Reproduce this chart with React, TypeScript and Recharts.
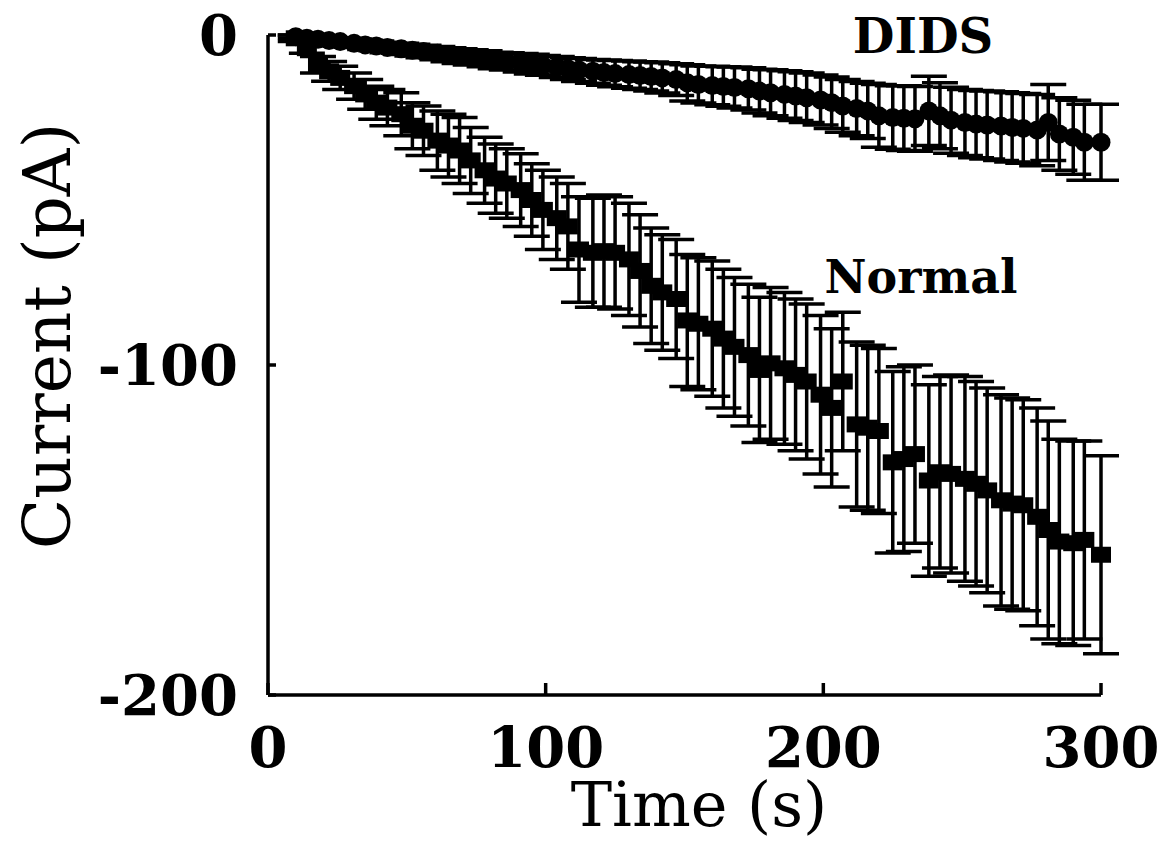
import { ScatterChart, Scatter, XAxis, YAxis, ErrorBar, Customized } from 'recharts';

// sampling times (s), shared by both recordings
const times = [
  10, 14, 18, 22, 26, 31, 35, 39, 43, 48,
  52, 56, 61, 65, 69, 73, 78, 82, 86, 91,
  95, 99, 104, 108, 112, 117, 121, 125, 130, 134,
  138, 142, 147, 151, 155, 160, 164, 168, 173, 177,
  181, 186, 190, 194, 199, 203, 207, 212, 216, 220,
  225, 229, 233, 238, 242, 246, 251, 255, 259, 264,
  268, 272, 277, 281, 285, 290, 294, 300,
];

// Normal: mean current (pA) and SEM
const normalCurrent = [
  -1, -4, -9, -11, -13, -15.5, -18, -20.5, -22, -24,
  -27.5, -29, -32, -33.5, -35, -38, -41, -43.5, -45, -47,
  -50, -53, -55.5, -58, -65, -66, -65.5, -66, -68, -71.5,
  -76, -78, -80, -86.5, -87.5, -89, -92, -94.5, -97, -101.5,
  -99.5, -101, -103, -105, -109, -113, -105, -118, -119, -120,
  -129.5, -128.5, -127, -135, -132.5, -133, -134.5, -136, -138, -141,
  -142, -142.5, -146, -150, -153.5, -154, -153, -157.5,
];
const normalSem = [
  1, 1.5, 2.5, 3, 3.5, 4, 4.5, 5, 5.5, 6.5,
  7, 7.5, 9, 9.5, 10, 10, 10, 10.5, 10.5, 11,
  11, 12, 12.5, 13, 16, 16.5, 17, 17, 17, 17,
  17.5, 17.5, 18, 20, 20, 20.5, 21, 21, 21.5, 22,
  23, 23, 23, 23.5, 24, 24, 21, 25, 25, 25,
  27.5, 28, 27, 29, 29, 30, 31, 31, 31, 32,
  32, 32, 33, 33, 31, 31, 30, 30,
];

// DIDS: mean current (pA) and SEM
const didsCurrent = [
  -0.5, -1, -1.3, -1.7, -2, -2.5, -3, -3.3, -3.8, -4.2,
  -4.6, -5, -5.5, -6, -6.4, -6.8, -7.2, -7.7, -8, -8.4,
  -8.8, -9.2, -9.7, -10.2, -10.6, -11, -11.4, -11.7, -12, -12.3,
  -12.6, -13, -13.5, -14.5, -15, -15.3, -15.6, -15.9, -16.3, -17,
  -17.5, -18, -18.5, -19, -19.7, -20.5, -21.5, -22.3, -23, -24.5,
  -25, -25.2, -25.4, -23, -24.5, -25.8, -26.5, -27, -27.3, -27.6,
  -28, -28.3, -28.8, -26.5, -30, -31, -32.5, -32.5,
];
const didsSem = [
  0.5, 0.8, 1, 1, 1.2, 1.3, 1.4, 1.5, 1.6, 1.7,
  1.8, 1.9, 2, 2.1, 2.2, 2.3, 2.4, 2.5, 2.6, 2.8,
  3, 3, 3.2, 3.3, 3.5, 3.6, 3.8, 4, 4.1, 4.2,
  4.4, 4.6, 4.8, 5.5, 5.6, 5.8, 6, 6.2, 6.4, 6.6,
  7, 7.2, 7.4, 7.5, 7.6, 7.8, 8, 8.2, 8.4, 9.5,
  9.6, 9.8, 9.8, 10.5, 10, 10, 10, 10.2, 10.3, 10.4,
  10.5, 10.6, 10.8, 11.5, 11, 11.2, 11.5, 11.5,
];

const xTicks = [0, 100, 200, 300];
const yTicks = [0, -100, -200];

const normalData = times.map((t, i) => ({ t, v: normalCurrent[i], e: normalSem[i] }));
const didsData = times.map((t, i) => ({ t, v: didsCurrent[i], e: didsSem[i] }));

const FONT = '"DejaVu Serif", "Liberation Serif", serif';

const Square = (p: any) => <rect x={p.cx - 10} y={p.cy - 8} width={20} height={16} fill="#000" />;
const Dot = (p: any) => <circle cx={p.cx} cy={p.cy} r={9.5} fill="#000" />;

const Labels = () => (
  <g fontFamily={FONT} fill="#000">
    <text x={923} y={53} fontSize={48} fontWeight="bold" textAnchor="middle">DIDS</text>
    <text x={921} y={293} fontSize={46} fontWeight="bold" textAnchor="middle">Normal</text>
    <text x={699} y={826} fontSize={62} textAnchor="middle">Time  (s)</text>
    <text x={0} y={0} fontSize={66} textAnchor="middle" transform="translate(70 336) rotate(-90)">
      Current (pA)
    </text>
  </g>
);

export default function App() {
  return (
    <div style={{ position: 'absolute', left: 0, top: 0, width: 1163, height: 846, background: '#fff' }}>
      <ScatterChart width={1163} height={846} margin={{ top: 35, right: 62, left: 0, bottom: 0 }}>
        <XAxis
          type="number"
          dataKey="t"
          domain={[0, 300]}
          ticks={xTicks}
          height={151}
          axisLine={{ stroke: '#000', strokeWidth: 3.5 }}
          tickLine={{ stroke: '#000', strokeWidth: 3.5 }}
          tickSize={-12}
          tickMargin={44}
          tick={{ fill: '#000', fontFamily: FONT, fontSize: 56, fontWeight: 'bold' }}
        />
        <YAxis
          type="number"
          dataKey="v"
          domain={[-200, 0]}
          ticks={yTicks}
          width={268}
          axisLine={{ stroke: '#000', strokeWidth: 3.5 }}
          tickLine={{ stroke: '#000', strokeWidth: 3.5 }}
          tickSize={-8}
          tickMargin={38}
          tick={{ fill: '#000', fontFamily: FONT, fontSize: 56, fontWeight: 'bold' }}
        />
        <Scatter data={normalData} shape={Square} isAnimationActive={false}>
          <ErrorBar dataKey="e" direction="y" width={18} stroke="#000" strokeWidth={3.5} isAnimationActive={false} />
        </Scatter>
        <Scatter data={didsData} shape={Dot} isAnimationActive={false}>
          <ErrorBar dataKey="e" direction="y" width={18} stroke="#000" strokeWidth={3.5} isAnimationActive={false} />
        </Scatter>
        <Customized component={Labels} />
      </ScatterChart>
    </div>
  );
}
